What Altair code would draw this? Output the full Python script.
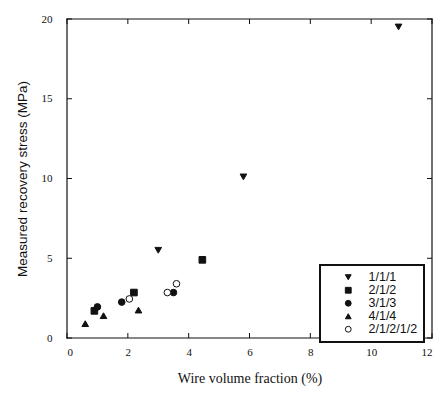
import altair as alt
import pandas as pd

series = ["1/1/1", "2/1/2", "3/1/3", "4/1/4", "2/1/2/1/2"]
x_111 = [10.9, 5.8, 3.0]
y_111 = [19.5, 10.1, 5.5]
x_212 = [4.45, 2.2, 0.9]
y_212 = [4.9, 2.85, 1.7]
x_313 = [1.0, 1.8, 3.5]
y_313 = [1.95, 2.25, 2.85]
x_414 = [0.6, 1.2, 2.35]
y_414 = [0.9, 1.4, 1.75]
x_21212 = [2.05, 3.3, 3.6]
y_21212 = [2.45, 2.85, 3.4]
x_ticks = [0, 2, 4, 6, 8, 10, 12]
y_ticks = [0, 5, 10, 15, 20]

rows = []
for name, xs_, ys_ in zip(series, [x_111, x_212, x_313, x_414, x_21212],
                          [y_111, y_212, y_313, y_414, y_21212]):
    for a, b in zip(xs_, ys_):
        rows.append({"x": a, "y": b, "series": name})
df = pd.DataFrame(rows)

W, H = 365, 319
x0, x1 = x_ticks[0], x_ticks[-1]
y0, y1 = y_ticks[0], y_ticks[-1]
ux = (x1 - x0) / W   # data units per pixel, x
uy = (y1 - y0) / H   # data units per pixel, y

# frame edges as thin filled rectangles (about 1.2 px)
hx, hy = 0.6 * ux, 0.6 * uy
edge_rows = [
    {"x": x0 - hx, "x2": x1 + hx, "y": y0 - hy, "y2": y0 + hy},
    {"x": x0 - hx, "x2": x1 + hx, "y": y1 - hy, "y2": y1 + hy},
    {"x": x0 - hx, "x2": x0 + hx, "y": y0 - hy, "y2": y1 + hy},
    {"x": x1 - hx, "x2": x1 + hx, "y": y0 - hy, "y2": y1 + hy},
]
# inward tick marks on all four sides, as thin filled rectangles
TL = 5
tx, ty = 0.5 * ux, 0.5 * uy
for t in x_ticks:
    edge_rows.append({"x": t - tx, "x2": t + tx, "y": y0, "y2": y0 + TL * uy})
    edge_rows.append({"x": t - tx, "x2": t + tx, "y": y1 - TL * uy, "y2": y1})
for t in y_ticks:
    edge_rows.append({"x": x0, "x2": x0 + TL * ux, "y": t - ty, "y2": t + ty})
    edge_rows.append({"x": x1 - TL * ux, "x2": x1, "y": t - ty, "y2": t + ty})
edges_df = pd.DataFrame(edge_rows)

xs = alt.Scale(domain=[x0, x1], nice=False, zero=False)
ys = alt.Scale(domain=[y0, y1], nice=False, zero=False)
ink = "#111111"

legend = alt.Legend(
    title=None, orient="none", legendX=253, legendY=246,
    strokeColor=ink, fillColor="white", padding=6,
    symbolOffset=16, labelOffset=14, labelFont="Liberation Sans",
    labelFontSize=12.5, labelColor=ink, rowPadding=-3, symbolSize=34,
    symbolStrokeWidth=1,
)

x_axis = alt.Axis(
    values=x_ticks, ticks=False, domain=False, grid=False,
    labelFont="Liberation Serif", labelFontSize=11, labelColor=ink,
    labelPadding=8, title="Wire volume fraction (%)", titleFont="Liberation Serif",
    titleFontSize=14, titleFontWeight="normal", titleColor=ink, titlePadding=14)
y_axis = alt.Axis(
    values=y_ticks, ticks=False, domain=False, grid=False,
    labelFont="Liberation Serif", labelFontSize=11, labelColor=ink,
    labelPadding=15, title="Measured recovery stress (MPa)", titleFont="Liberation Sans",
    titleFontSize=13.5, titleFontWeight="normal", titleColor=ink, titlePadding=12)

edges = alt.Chart(edges_df).mark_rect(color=ink, opacity=1).encode(
    x=alt.X("x:Q", scale=xs, axis=x_axis), x2="x2",
    y=alt.Y("y:Q", scale=ys, axis=y_axis), y2="y2",
)

points = alt.Chart(df).mark_point(filled=True, strokeWidth=1, size=44, opacity=1).encode(
    x=alt.X("x:Q", scale=xs, axis=x_axis),
    y=alt.Y("y:Q", scale=ys, axis=y_axis),
    shape=alt.Shape("series:N", scale=alt.Scale(
        domain=series, range=["triangle-down", "square", "circle", "triangle-up", "circle"]),
        legend=legend),
    fill=alt.Fill("series:N", scale=alt.Scale(
        domain=series, range=[ink, ink, ink, ink, "white"]), legend=legend),
    stroke=alt.Stroke("series:N", scale=alt.Scale(
        domain=series, range=[ink] * len(series)), legend=legend),
)

chart = alt.layer(edges, points).properties(
    width=W, height=H,
    autosize=alt.AutoSizeParams(type="none"),
    padding={"left": 67, "top": 19, "right": 8, "bottom": 55},
).configure(background="white").configure_view(strokeWidth=0).configure_legend(strokeWidth=2)

chart.save("out.html", embed_options={"renderer": "svg", "actions": False})
